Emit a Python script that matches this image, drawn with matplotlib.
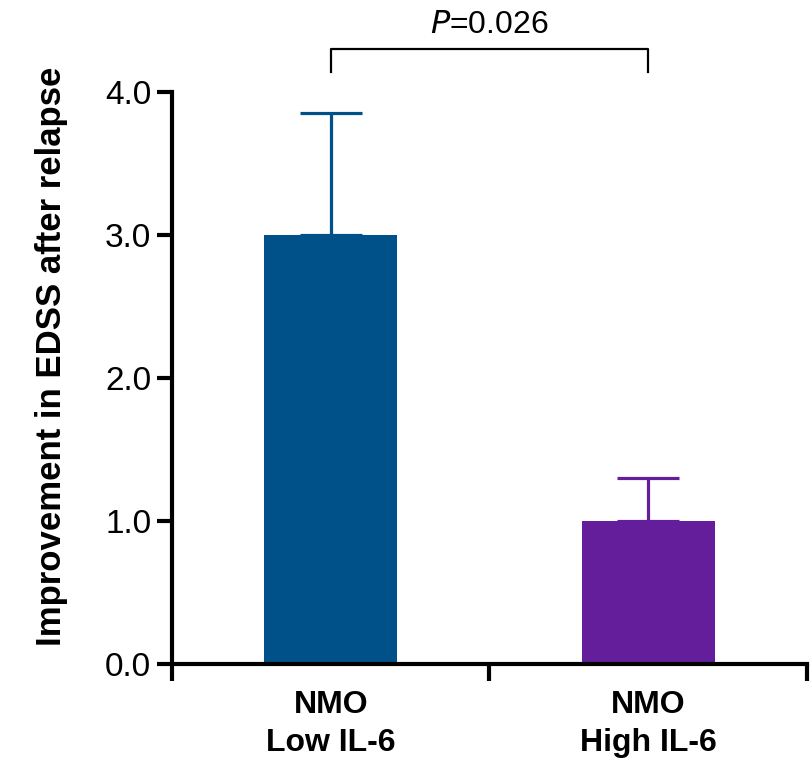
import numpy as np
import matplotlib.pyplot as plt

plt.rcParams['font.family'] = ['Liberation Sans', 'DejaVu Sans']

# Data
groups = ["NMO\nLow IL-6", "NMO\nHigh IL-6"]
means = [3.0, 1.0]
errors = [0.85, 0.30]
colors = ["#00508A", "#641E9C"]
p_text = "$\\mathit{P}$=0.026"

fig = plt.figure(figsize=(8.1, 7.62), dpi=100)
ax = fig.add_axes([0.2123, 0.1286, 0.7840, 0.7507])

x = np.arange(len(groups))
ax.bar(x, means, width=0.42, color=colors, linewidth=0, zorder=2)
for xi, m, e, c in zip(x, means, errors, colors):
    ax.errorbar(xi, m, yerr=[[0], [e]], color=c, elinewidth=2.3,
                capsize=22, capthick=2.3, zorder=1)

ax.set_xlim(-0.5, 1.5)
ax.set_ylim(0, 4.0)
ax.set_yticks([0, 1, 2, 3, 4])
ax.set_yticklabels(["0.0", "1.0", "2.0", "3.0", "4.0"], fontsize=24)
ax.set_xticks([-0.5, 0.5, 1.5])
ax.set_xticklabels([])
ax.tick_params(axis='y', length=11, width=3, pad=4)
ax.tick_params(axis='x', length=12, width=3)
for xi, g in zip(x, groups):
    ax.text(xi, -0.18, g, ha='center', va='top', fontsize=23,
            fontweight='bold', linespacing=1.38, transform=ax.transData)

for side in ['top', 'right']:
    ax.spines[side].set_visible(False)
for side in ['left', 'bottom']:
    ax.spines[side].set_linewidth(3)

ax.set_ylabel("Improvement in EDSS after relapse", fontsize=25,
              fontweight='bold')
ax.yaxis.set_label_coords(-0.164, 0.538)

# significance bracket
yb = 4.3
ax.plot([0, 0, 1, 1], [4.14, yb, yb, 4.14], color='black', lw=1.6,
        clip_on=False)
ax.text(0.5, yb + 0.06, p_text, ha='center', va='bottom', fontsize=23)

fig.savefig("out.png", dpi=100)
